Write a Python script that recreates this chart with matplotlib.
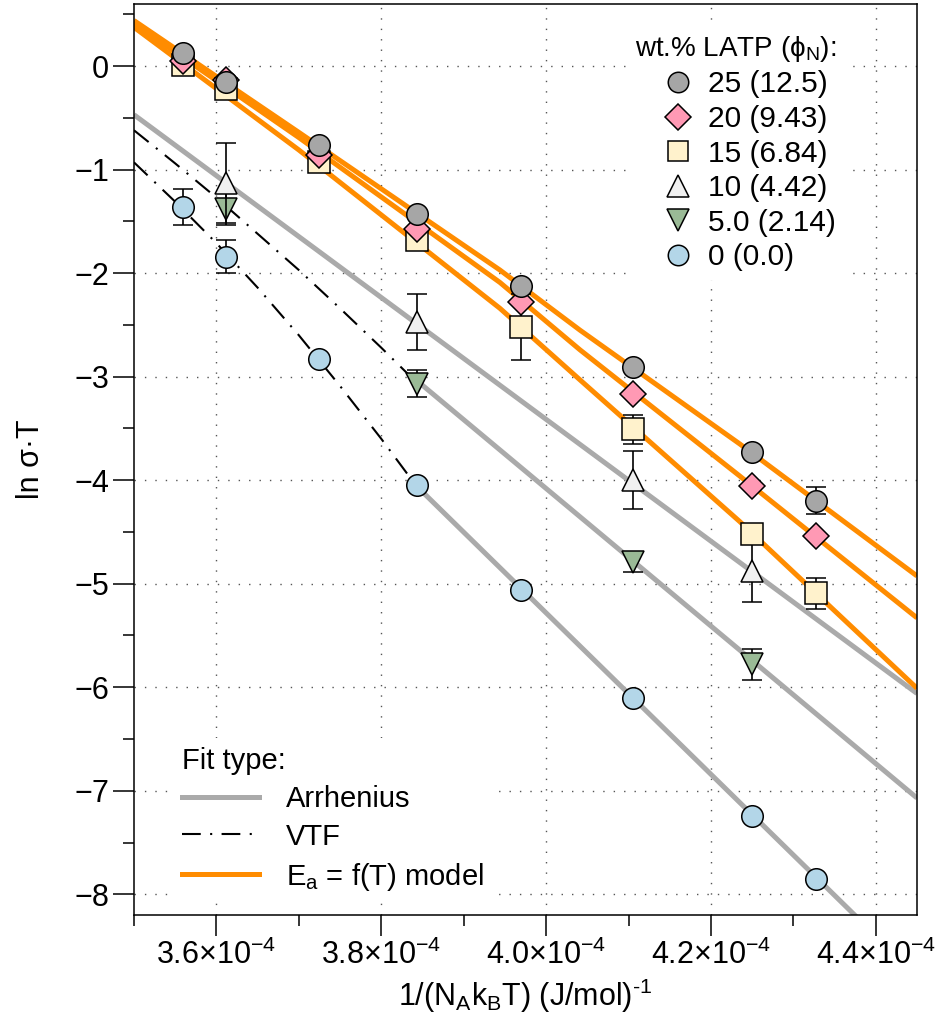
import numpy as np
import matplotlib
matplotlib.use("Agg")
import matplotlib.pyplot as plt
from matplotlib.lines import Line2D
from matplotlib.ticker import FixedLocator, FuncFormatter

plt.rcParams['font.family'] = ['Liberation Sans', 'DejaVu Sans']
plt.rcParams['mathtext.fontset'] = 'custom'
plt.rcParams['mathtext.rm'] = 'Liberation Sans'
plt.rcParams['mathtext.it'] = 'Liberation Sans:italic'
plt.rcParams['mathtext.bf'] = 'Liberation Sans:bold'

# inverse thermal energy 1/(N_A k_B T) for the measured temperatures
x_all = [3.559e-4, 3.612e-4, 3.724e-4, 3.843e-4, 3.970e-4, 4.105e-4, 4.250e-4, 4.327e-4]
x_sub = [3.612e-4, 3.843e-4, 4.105e-4, 4.250e-4]

# ln(sigma*T) per LATP loading
y25 = [0.13, -0.15, -0.76, -1.43, -2.12, -2.91, -3.73, -4.20]
e25 = [np.nan, np.nan, np.nan, np.nan, np.nan, np.nan, np.nan, 0.13]
y20 = [0.05, -0.13, -0.86, -1.57, -2.28, -3.17, -4.06, -4.54]
y15 = [0.01, -0.22, -0.93, -1.68, -2.52, -3.51, -4.52, -5.09]
e15 = [np.nan, np.nan, np.nan, np.nan, 0.32, 0.14, np.nan, 0.15]
y10 = [-1.13, -2.47, -4.00, -4.88]
e10 = [0.39, 0.27, 0.28, 0.30]
y05 = [-1.38, -3.07, -4.79, -5.78]
e05 = [0.15, 0.13, 0.10, 0.15]
y00 = [-1.36, -1.84, -2.83, -4.05, -5.06, -6.10, -7.24, -7.85]
e00 = [0.17, 0.16, np.nan, np.nan, np.nan, np.nan, np.nan, np.nan]

# Ea = f(T) model curves
model_x = [3.50e-4, 3.70e-4, 3.944e-4, 4.041e-4, 4.235e-4, 4.45e-4]
model25 = [0.44, -0.64, -1.97, -2.55, -3.65, -4.925]
model20 = [0.41, -0.69, -2.09, -2.74, -3.96, -5.33]
model15 = [0.375, -0.81, -2.34, -3.03, -4.40, -6.01]

# Arrhenius fits
arr10_x = [3.50e-4, 4.45e-4]
arr10_y = [-0.47, -6.06]
arr05_x = [3.842e-4, 4.45e-4]
arr05_y = [-3.03, -7.07]
arr00_x = [3.842e-4, 4.45e-4]
arr00_y = [-4.05, -8.79]

# VTF fits
vtf_x = [3.50e-4, 3.55e-4, 3.60e-4, 3.65e-4, 3.70e-4, 3.75e-4, 3.80e-4, 3.842e-4]
vtf05_y = [-0.62, -0.94, -1.27, -1.62, -1.97, -2.34, -2.72, -3.05]
vtf00_y = [-0.93, -1.31, -1.71, -2.14, -2.60, -3.09, -3.60, -4.05]

labels = ['25 (12.5)', '20 (9.43)', '15 (6.84)', '10 (4.42)', '5.0 (2.14)', '0 (0.0)']
colors = ['#a6a6a6', '#ff99b4', '#fff2cc', '#f0f0f0', '#9aba96', '#b3d6e8']
markers = ['o', 'D', 's', '^', 'v', 'o']
msizes = [15.5, 13.5, 15.5, 16, 16, 15.5]

orange = '#ff8c00'
grey = '#aaaaaa'

fig = plt.figure(figsize=(9.41, 10.27), dpi=100)
ax = fig.add_axes([134 / 941, 1 - 915 / 1027, 783 / 941, 911 / 1027])

ax.set_xlim(3.5e-4, 4.45e-4)
ax.set_ylim(-8.2, 0.6)

# fit lines
lw_fit = 3.6
ax.plot(arr10_x, arr10_y, color=grey, lw=lw_fit, solid_capstyle='butt', zorder=2)
ax.plot(arr05_x, arr05_y, color=grey, lw=lw_fit, solid_capstyle='butt', zorder=2)
ax.plot(arr00_x, arr00_y, color=grey, lw=lw_fit, solid_capstyle='butt', zorder=2)
dd = (0, (9, 4.5, 1, 4.5))
ax.plot(vtf_x, vtf05_y, color='black', lw=1.5, linestyle=dd, zorder=2)
ax.plot(vtf_x, vtf00_y, color='black', lw=1.5, linestyle=dd, zorder=2)
for m in [model15, model20, model25]:
    ax.plot(model_x, m, color=orange, lw=lw_fit, solid_capstyle='butt', zorder=2.5)

# data, drawn from lowest loading to highest
series = [
    (x_all, y00, e00, 5),
    (x_sub, y05, e05, 4),
    (x_sub, y10, e10, 3),
    (x_all, y15, e15, 2),
    (x_all, y20, [np.nan] * 8, 1),
    (x_all, y25, e25, 0),
]
for k, (xs, ys, es, i) in enumerate(series):
    ax.errorbar(xs, ys, yerr=es, fmt=markers[i], ms=msizes[i], mfc=colors[i],
                mec='black', mew=1.1, ecolor='black', elinewidth=1.2,
                capsize=7, capthick=1.2, zorder=4 + k)

# axes styling
for s in ax.spines.values():
    s.set_linewidth(1.1)

xmaj = [3.6e-4, 3.8e-4, 4.0e-4, 4.2e-4, 4.4e-4]
xmin = [3.5e-4, 3.7e-4, 3.9e-4, 4.1e-4, 4.3e-4]
ax.xaxis.set_major_locator(FixedLocator(xmaj))
ax.xaxis.set_minor_locator(FixedLocator(xmin))
ax.xaxis.set_major_formatter(FuncFormatter(
    lambda v, p: r'$\mathregular{%.1f{\times}10^{-4}}$' % (v * 1e4)))
ax.yaxis.set_major_locator(FixedLocator(np.arange(-8, 1, 1)))
ax.yaxis.set_minor_locator(FixedLocator(np.arange(-7.5, 0.6, 1)))
ax.yaxis.set_major_formatter(FuncFormatter(lambda v, p: '%d' % v if v >= 0 else '\u2212%d' % -v))

ax.tick_params(which='major', direction='out', length=15, width=1.1, labelsize=22, pad=3)
ax.tick_params(which='minor', direction='out', length=8, width=1.1)
ax.tick_params(axis='x', which='major', pad=3)

ax.grid(True, which='major', color='#555555', lw=1.0, linestyle=(0, (1, 6.5)))
ax.set_axisbelow(True)

ax.set_ylabel('ln σ·T', fontsize=22, labelpad=20)
ax.set_xlabel('1/(N$_\\mathregular{A}$k$_\\mathregular{B}$T) (J/mol)$^\\mathregular{\u20101}$',
              fontsize=22, labelpad=4)

# legends
h1 = [Line2D([], [], ls='none', marker=markers[i], ms=msizes[i] * 0.95, mfc=colors[i],
             mec='black', mew=1.1) for i in range(6)]
leg1 = ax.legend(h1, labels, title='wt.% LATP (ϕ$_\\mathregular{N}$):', loc='upper right',
                 bbox_to_anchor=(0.908, 0.977), fontsize=21.5, title_fontsize=20,
                 alignment='right',
                 frameon=True, facecolor='white', edgecolor='none', framealpha=1,
                 handlelength=0.9, handletextpad=0.55, labelspacing=0.22,
                 borderaxespad=0, borderpad=0.3, fancybox=False)
ax.add_artist(leg1)

h2 = [Line2D([], [], color=grey, lw=lw_fit),
      Line2D([], [], color='black', lw=1.5, linestyle=dd),
      Line2D([], [], color=orange, lw=lw_fit)]
leg2 = ax.legend(h2, ['Arrhenius', 'VTF', r'E$_\mathregular{a}$ = f(T) model'],
                 title='Fit type:', loc='lower left', bbox_to_anchor=(0.05, 0.015),
                 fontsize=21, title_fontsize=21, alignment='left',
                 frameon=True, facecolor='white', edgecolor='none', framealpha=1,
                 handlelength=2.65, handletextpad=0.92, labelspacing=0.34,
                 borderaxespad=0, borderpad=0.3, fancybox=False)

fig.savefig('out.png', dpi=100)
